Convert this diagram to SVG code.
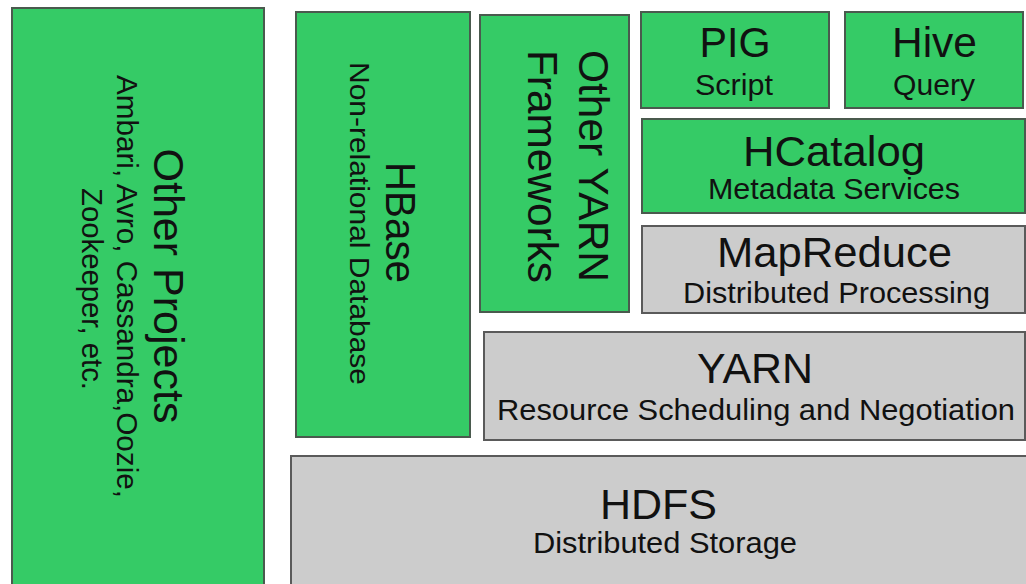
<svg xmlns="http://www.w3.org/2000/svg" width="1026" height="584" viewBox="0 0 1026 584">
<style>
.g{fill:#35cb66;stroke:#4a5a4e;stroke-width:2}
.y{fill:#cccccc;stroke:#5a5a5a;stroke-width:2}
text{font-family:"Liberation Sans",Arial,sans-serif;fill:#111;text-anchor:middle}
.t{font-size:42px}
.s{font-size:30px}
</style>
<rect width="1026" height="584" fill="#ffffff"/>
<g id="other-projects">
<rect class="g" x="12" y="8" width="252" height="590"/>
<text class="t" transform="translate(154,286) rotate(90)" textLength="275" lengthAdjust="spacingAndGlyphs">Other Projects</text>
<text class="s" transform="translate(117,286.5) rotate(90)" textLength="423" lengthAdjust="spacingAndGlyphs">Ambari, Avro, Cassandra,Oozie,</text>
<text class="s" transform="translate(82,289) rotate(90)" textLength="202" lengthAdjust="spacingAndGlyphs">Zookeeper, etc.</text>
</g>
<g id="hbase">
<rect class="g" x="296" y="12" width="174" height="425"/>
<text class="t" transform="translate(386,222.5) rotate(90)" textLength="121" lengthAdjust="spacingAndGlyphs">HBase</text>
<text class="s" style="font-size:27px" transform="translate(350,223.5) rotate(90)" textLength="323" lengthAdjust="spacingAndGlyphs">Non-relational Database</text>
</g>
<g id="other-yarn">
<rect class="g" x="480" y="15" width="149" height="297"/>
<text class="t" transform="translate(579,166) rotate(90)" textLength="232" lengthAdjust="spacingAndGlyphs">Other YARN</text>
<text class="t" transform="translate(528,166.5) rotate(90)" textLength="233" lengthAdjust="spacingAndGlyphs">Frameworks</text>
</g>
<g id="pig">
<rect class="g" x="641" y="12" width="188" height="96"/>
<text class="t" x="735" y="57" textLength="71" lengthAdjust="spacingAndGlyphs">PIG</text>
<text class="s" x="734" y="95" textLength="78" lengthAdjust="spacingAndGlyphs">Script</text>
</g>
<g id="hive">
<rect class="g" x="845" y="12" width="178" height="96"/>
<text class="t" x="934.5" y="57" textLength="85" lengthAdjust="spacingAndGlyphs">Hive</text>
<text class="s" x="934" y="95" textLength="82" lengthAdjust="spacingAndGlyphs">Query</text>
</g>
<g id="hcatalog">
<rect class="g" x="642" y="119" width="383" height="94"/>
<text class="t" x="834" y="166" textLength="182" lengthAdjust="spacingAndGlyphs">HCatalog</text>
<text class="s" x="834" y="199" textLength="252" lengthAdjust="spacingAndGlyphs">Metadata Services</text>
</g>
<g id="mapreduce">
<rect class="y" x="642" y="226" width="383" height="87"/>
<text class="t" x="834.5" y="267" textLength="235" lengthAdjust="spacingAndGlyphs">MapReduce</text>
<text class="s" x="836.5" y="303" textLength="307" lengthAdjust="spacingAndGlyphs">Distributed Processing</text>
</g>
<g id="yarn">
<rect class="y" x="484" y="332" width="541" height="108"/>
<text class="t" x="755" y="383" textLength="116" lengthAdjust="spacingAndGlyphs">YARN</text>
<text class="s" x="756" y="420" textLength="518" lengthAdjust="spacingAndGlyphs">Resource Scheduling and Negotiation</text>
</g>
<g id="hdfs">
<rect class="y" x="291" y="456" width="745" height="140"/>
<text class="t" x="658.5" y="519" textLength="117" lengthAdjust="spacingAndGlyphs">HDFS</text>
<text class="s" x="665" y="553" textLength="264" lengthAdjust="spacingAndGlyphs">Distributed Storage</text>
</g>
<g id="connectors"></g>
</svg>
